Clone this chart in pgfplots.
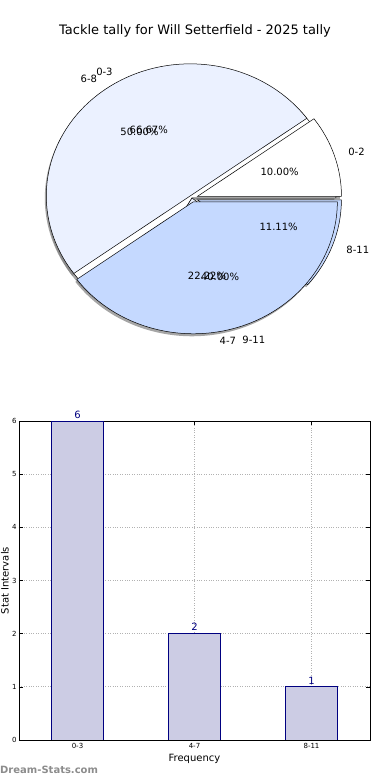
\documentclass[border=0pt]{standalone}
\usepackage{pgfplots}
\pgfplotsset{compat=1.18}
\usepackage{fontspec}
\setmainfont{DejaVu Sans}
\definecolor{navyb}{RGB}{0,0,128}
\definecolor{barfill}{RGB}{204,204,228}
\definecolor{pielight}{RGB}{235,241,255}
\definecolor{pieblue}{RGB}{197,217,255}
\definecolor{wmgray}{RGB}{140,140,140}
% Pie data: label / value (percent) / explode / colour
\def\pieA{0-3/66.67/0/white, 4-7/22.22/0/pielight, 8-11/11.11/0.04/pieblue}
\def\pieB{0-2/10/0.04/white, 6-8/50/0.02/pielight, 9-11/40/0.03/pieblue}
\newcommand{\drawpie}[2]{% #1 list, #2 mode (0 shadow, 1 wedge, 2 text)
  \def\cum{0}%
  \foreach \lab/\val/\ex/\col in #1 {%
    \pgfmathsetmacro\sa{\cum*3.6}%
    \pgfmathsetmacro\ea{(\cum+\val)*3.6}%
    \pgfmathsetmacro\ma{(\sa+\ea)/2}%
    \pgfmathsetmacro\ox{\ex*cos(\ma)}%
    \pgfmathsetmacro\oy{\ex*sin(\ma)}%
    \ifnum#2=0
      \fill[black!50, opacity=0.7] ([shift={(-1.5pt,-2.5pt)}]axis cs:\ox,\oy) -- ++(\sa:144pt and 132pt) arc[start angle=\sa, end angle=\ea, x radius=144pt, y radius=132pt] -- cycle;
    \fi
    \ifnum#2=1
      \filldraw[fill=\col, draw=black, line width=0.5pt, line join=miter] (axis cs:\ox,\oy) -- ++(\sa:144pt and 132pt) arc[start angle=\sa, end angle=\ea, x radius=144pt, y radius=132pt] -- cycle;
    \fi
    \ifnum#2=2
      \pgfmathsetmacro\cx{cos(\ma)}%
      \pgfmathparse{\cx>0 ? 1 : 0}%
      \ifnum\pgfmathresult=1 \def\anc{west}\else\def\anc{east}\fi
      \node[anchor=\anc, font=\fontsize{10}{12}\selectfont, inner sep=0pt] at ([shift={(\ma:158.4pt and 145.2pt)}]axis cs:\ox,\oy) {\lab};
      \node[font=\fontsize{10}{12}\selectfont, inner sep=0pt] at ([shift={(\ma:86.4pt and 79.2pt)}]axis cs:\ox,\oy) {\pgfmathprintnumber[fixed, fixed zerofill, precision=2, assume math mode=true]{\val}\%};
    \fi
    \pgfmathsetmacro\newcum{\cum+\val}%
    \global\let\cum\newcum
  }%
}
\begin{document}
\begin{tikzpicture}
\useasboundingbox (0,0) rectangle (390pt,780pt);
\node[font=\fontsize{13}{15}\selectfont] at (195pt,749pt) {Tackle tally for Will Setterfield - 2025 tally};
% Pie
\begin{axis}[at={(192pt,582pt)}, anchor=center, width=288pt, height=264pt, scale only axis,
  hide axis, xmin=-1, xmax=1, ymin=-1, ymax=1, clip=false]
\pgfplotsextra{%
  \drawpie{\pieA}{0}%
  \drawpie{\pieB}{0}%
  \drawpie{\pieA}{1}%
  \drawpie{\pieB}{1}%
  \drawpie{\pieA}{2}%
  \drawpie{\pieB}{2}%
}
\end{axis}
% Bars
\begin{axis}[at={(19pt,40pt)}, anchor=south west, width=351pt, height=319pt, scale only axis,
  xmin=-0.5, xmax=2.5, ymin=0, ymax=6,
  xtick={0,1,2}, xticklabels={0-3,4-7,8-11}, ytick={0,1,2,3,4,5,6},
  grid=major, grid style={dotted, black!30, line width=0.7pt},
  tick align=inside, major tick length=4pt, tick style={black, line width=0.5pt},
  axis line style={line width=0.8pt},
  ticklabel style={font=\fontsize{7}{8}\selectfont},
  /pgf/number format/assume math mode=true,
  xlabel={Frequency}, ylabel={Stat Intervals},
  label style={font=\fontsize{10}{12}\selectfont},
  xlabel style={yshift=1pt},
  ylabel style={at={(axis description cs:-0.04,0.5)}, anchor=center},
  xticklabel style={yshift=0pt}, yticklabel style={xshift=1pt},
  nodes near coords, nodes near coords style={font=\fontsize{10}{12}\selectfont, text=navyb, yshift=-1pt},
  axis on top=false]
\addplot[ybar, bar width=52pt, fill=barfill, draw=navyb, line width=0.7pt] coordinates {(0,6) (1,2) (2,1)};
\end{axis}
\node[anchor=west, font=\bfseries\fontsize{10}{12}\selectfont, text=wmgray, inner sep=0pt] at (0pt,10pt) {Dream-Stats.com};
\end{tikzpicture}
\end{document}
